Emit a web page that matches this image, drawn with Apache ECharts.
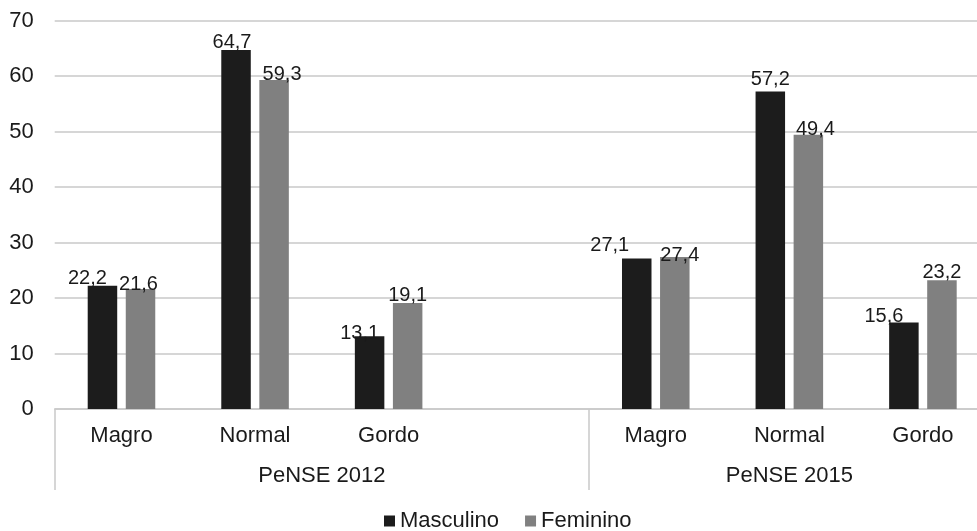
<!DOCTYPE html>
<html>
<head>
<meta charset="utf-8">
<title>Percepção da imagem corporal — PeNSE 2012 e 2015</title>
<script src="https://cdn.jsdelivr.net/npm/echarts@6/dist/echarts.min.js"></script>
<style>
  html, body { margin: 0; padding: 0; background: #ffffff; }
  #chart { width: 977px; height: 531px; }
</style>
</head>
<body>
<div id="chart"></div>
<script>
// Survey editions and body-image classes
const surveys = ['PeNSE 2012', 'PeNSE 2015'];
const classes = ['Magro', 'Normal', 'Gordo'];

// Percentages per survey, in the order of `classes`
const masculino2012 = [22.2, 64.7, 13.1];
const feminino2012  = [21.6, 59.3, 19.1];
const masculino2015 = [27.1, 57.2, 15.6];
const feminino2015  = [27.4, 49.4, 23.2];

// Y axis ticks
const yTicks = [0, 10, 20, 30, 40, 50, 60, 70];

// Label nudges [dx, dy] in pixels, one per bar slot (spacer slot included)
const nudgeMasc = [[-15, 3], [-4, 3], [-10, 7], null, [-27, -3], [0, -2], [-20, 4]];
const nudgeFem  = [[-2, 5], [8, 5], [0, 2], null, [5, 9], [7, 5], [0, 2]];

const FONT = 'Liberation Sans, Arial, sans-serif';
const GRID_COLOR = '#c9c9c9';
const TEXT_COLOR = '#1a1a1a';

// Category axis: the first survey is followed by an empty spacer slot
const categories = [...classes, '', ...classes];
const groupSlots = [classes.length + 1, classes.length];
const masculino = [...masculino2012, null, ...masculino2015];
const feminino  = [...feminino2012, null, ...feminino2015];

// Centres of each survey group on a 0..N slot scale
const groupCentres = [];
let start = 0;
groupSlots.forEach(n => { groupCentres.push(start + n / 2); start += n; });
const boundaryIdx = [0, groupSlots[0]];

function fmt(v) { return String(v).replace('.', ','); }

function toData(values, nudges) {
  return values.map((v, i) => {
    if (v === null) return null;
    const n = nudges[i] || [0, 0];
    return { value: v, label: { offset: n } };
  });
}

const chart = echarts.init(document.getElementById('chart'), null, { renderer: 'canvas' });

chart.setOption({
  animation: false,
  backgroundColor: '#ffffff',
  textStyle: { fontFamily: FONT },
  // The plot area runs past the right edge of the canvas
  grid: {
    left: 54.7, top: 20.5, width: 935, height: 388.5,
    containLabel: false, outerBoundsMode: 'none'
  },
  legend: {
    data: ['Masculino', 'Feminino'],
    left: 384,
    top: 510,
    padding: 0,
    itemWidth: 11,
    itemHeight: 11,
    itemGap: 26,
    icon: 'rect',
    textStyle: { fontFamily: FONT, fontSize: 22, color: TEXT_COLOR }
  },
  xAxis: [
    {
      type: 'category',
      data: categories,
      boundaryGap: true,
      axisLine: { show: true, lineStyle: { color: GRID_COLOR, width: 1.5 } },
      axisTick: {
        show: true,
        interval: (idx) => boundaryIdx.includes(idx),
        length: 81,
        lineStyle: { color: GRID_COLOR, width: 1.5 }
      },
      axisLabel: {
        interval: 0,
        margin: 16,
        fontFamily: FONT,
        fontSize: 22,
        color: TEXT_COLOR
      },
      splitLine: { show: false }
    },
    {
      type: 'value',
      position: 'bottom',
      min: 0,
      max: categories.length,
      interval: 0.5,
      axisLine: { show: false },
      axisTick: { show: false },
      splitLine: { show: false },
      axisLabel: {
        margin: 55.5,
        fontFamily: FONT,
        fontSize: 22,
        color: TEXT_COLOR,
        showMinLabel: true,
        showMaxLabel: true,
        formatter: (v) => {
          const k = groupCentres.indexOf(v);
          return k >= 0 ? surveys[k] : '';
        }
      }
    }
  ],
  yAxis: {
    type: 'value',
    min: yTicks[0],
    max: yTicks[yTicks.length - 1],
    interval: yTicks[1] - yTicks[0],
    axisLine: { show: false },
    axisTick: { show: false },
    axisLabel: {
      margin: 21,
      fontFamily: FONT,
      fontSize: 22,
      color: TEXT_COLOR
    },
    splitLine: { show: true, lineStyle: { color: GRID_COLOR, width: 1.5 } }
  },
  series: [
    {
      name: 'Masculino',
      type: 'bar',
      xAxisIndex: 0,
      barWidth: 29.5,
      barGap: '29%',
      itemStyle: { color: '#1c1c1c' },
      label: {
        show: true,
        position: 'top',
        distance: 0,
        fontFamily: FONT,
        fontSize: 20,
        color: TEXT_COLOR,
        formatter: (p) => fmt(p.value)
      },
      data: toData(masculino, nudgeMasc)
    },
    {
      name: 'Feminino',
      type: 'bar',
      xAxisIndex: 0,
      barWidth: 29.5,
      barGap: '29%',
      itemStyle: { color: '#808080' },
      label: {
        show: true,
        position: 'top',
        distance: 0,
        fontFamily: FONT,
        fontSize: 20,
        color: TEXT_COLOR,
        formatter: (p) => fmt(p.value)
      },
      data: toData(feminino, nudgeFem)
    }
  ]
});
</script>
</body>
</html>
